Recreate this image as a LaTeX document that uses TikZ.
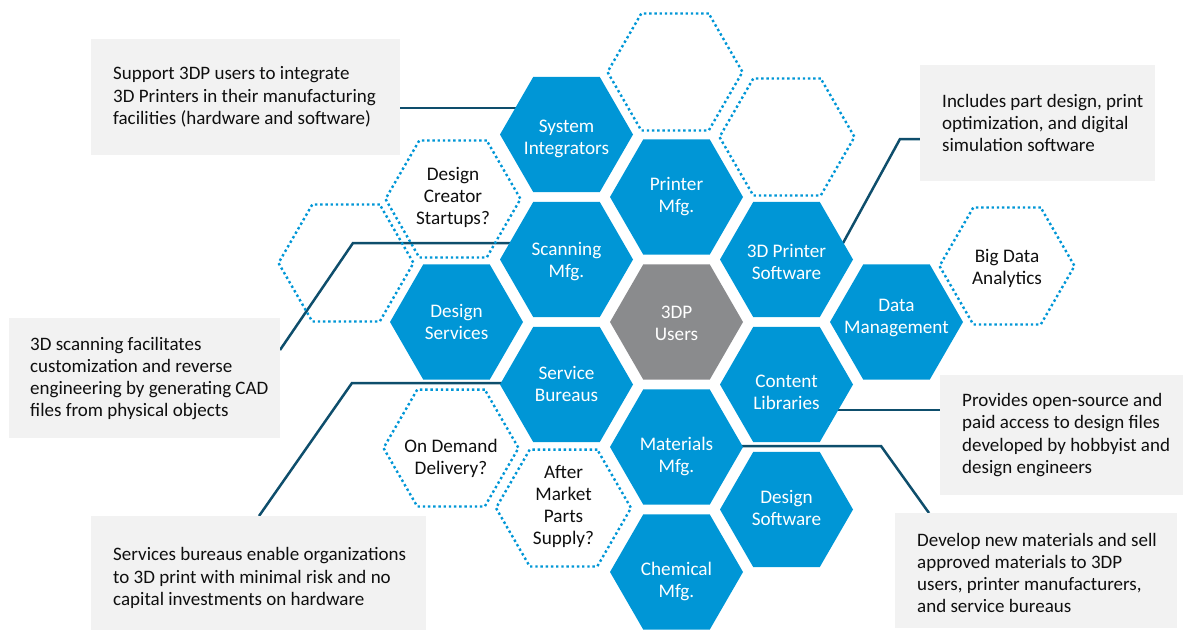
\documentclass[tikz,border=0pt]{standalone}
\usepackage{fontspec}
\setmainfont{Carlito}
\usetikzlibrary{shapes.geometric,backgrounds}
\definecolor{hpblue}{RGB}{0,150,214}
\definecolor{hpgray}{RGB}{138,139,141}
\definecolor{boxgray}{RGB}{242,242,242}
\definecolor{conncol}{RGB}{14,78,108}
\definecolor{txtcol}{RGB}{15,15,15}
\newcommand\hexfont{\fontsize{19.2}{22}\selectfont}
\newcommand\boxfont{\fontsize{19}{22.3}\selectfont}
\begin{document}
\begin{tikzpicture}[x=1pt,y=-1pt,
  hexbase/.style={regular polygon, regular polygon sides=6, inner sep=0pt, outer sep=0pt},
  hexfill/.style={hexbase, minimum size=133pt, fill=hpblue},
  hexgray/.style={hexbase, minimum size=133pt, fill=hpgray},
  hexdot/.style={hexbase, minimum size=135pt, draw=hpblue, line width=2.4pt, dash pattern=on 2.4pt off 2.8pt},
  htext/.style={text=white, align=center, font=\hexfont, inner sep=0pt},
  dtext/.style={text=txtcol, align=center, font=\hexfont, inner sep=0pt},
  infobox/.style={fill=boxgray, inner sep=0pt, outer sep=0pt, anchor=north west},
  btext/.style={text=txtcol, align=left, font=\boxfont, inner sep=0pt, anchor=west},
  conn/.style={draw=conncol, line width=2.5pt}
]
\useasboundingbox (0,0) rectangle (1183,630);

% info boxes
\node[infobox, minimum width=309pt, minimum height=116pt] (b1) at (91,39) {};
\node[infobox, minimum width=235pt, minimum height=116pt] (b2) at (920,65) {};
\node[infobox, minimum width=271pt, minimum height=120pt] (b3) at (9,318) {};
\node[infobox, minimum width=335pt, minimum height=114pt] (b4) at (91,516) {};
\node[infobox, minimum width=243pt, minimum height=120pt] (b5) at (940,375) {};
\node[infobox, minimum width=282pt, minimum height=115pt] (b6) at (895,513) {};

\node[btext] (t1) at (113,97) {Support 3DP users to integrate\\3D Printers in their manufacturing\\facilities (hardware and software)};
\node[btext] (t2) at (942,123) {Includes part design, print\\optimization, and digital\\simulation software};
\node[btext] (t3) at (30,378.5) {3D scanning facilitates\\customization and reverse\\engineering by generating CAD\\files from physical objects};
\node[btext] (t4) at (113,578) {Services bureaus enable organizations\\to 3D print with minimal risk and no\\capital investments on hardware};
\node[btext] (t5) at (962,435) {Provides open-source and\\paid access to design files\\developed by hobbyist and\\design engineers};
\node[btext] (t6) at (917,573) {Develop new materials and sell\\approved materials to 3DP\\users, printer manufacturers,\\and service bureaus};

% filled hexagons
\node[hexfill] (sys)  at (566.5,134.5) {};
\node[hexfill] (pm)   at (676.5,197) {};
\node[hexfill] (scan) at (566.5,259.5) {};
\node[hexgray] (users) at (676.5,322) {};
\node[hexfill] (ds)   at (456.5,322) {};
\node[hexfill] (sb)   at (566.5,384.5) {};
\node[hexfill] (ps3d) at (786.5,259.5) {};
\node[hexfill] (cl)   at (786.5,384.5) {};
\node[hexfill] (dm)   at (896.5,322) {};
\node[hexfill] (mm)   at (676.5,447) {};
\node[hexfill] (dsw)  at (786.5,509.5) {};
\node[hexfill] (cm)   at (676.5,572) {};

\node[htext] (lsys)  at (566.5,139) {System\\Integrators};
\node[htext] (lpm)   at (676.5,197) {Printer\\Mfg.};
\node[htext] (lscan) at (566.5,262) {Scanning\\Mfg.};
\node[htext] (lusers) at (676.5,323.5) {3DP\\Users};
\node[htext] (lds)   at (456.5,322) {Design\\Services};
\node[htext] (lsb)   at (566.5,384) {Service\\Bureaus};
\node[htext] (lps3d) at (786.5,262) {3D Printer\\Software};
\node[htext] (lcl)   at (786.5,392) {Content\\Libraries};
\node[htext] (ldm)   at (896.5,317.5) {Data\\Management};
\node[htext] (lmm)   at (676.5,456) {Materials\\Mfg.};
\node[htext] (ldsw)  at (786.5,507.5) {Design\\Software};
\node[htext] (lcm)   at (676.5,581) {Chemical\\Mfg.};

% dotted hexagons
\node[hexdot] (dtop)   at (675,72) {};
\node[hexdot] (dright) at (787,137) {};
\node[hexdot] (dbig)   at (1007,266) {};
\node[hexdot] (dcre)   at (453,199) {};
\node[hexdot] (dleft)  at (346,263) {};
\node[hexdot] (dond)   at (451,448) {};
\node[hexdot] (daft)   at (563.5,508) {};

\node[dtext] (lbig) at (1007,268) {Big Data\\Analytics};
\node[dtext] (lcre) at (453,197) {Design\\Creator\\Startups?};
\node[dtext] (lond) at (451,458) {On Demand\\Delivery?};
\node[dtext] (laft) at (563.5,506) {After\\Market\\Parts\\Supply?};

% connectors
\begin{scope}[on background layer]
\draw[conn] (b1.east |- 0,108) -- (sys.center |- 0,108);
\coordinate (k2) at (900,139);
\coordinate (e2) at (831,265);
\draw[conn] (b2.west |- k2) -- (k2) -- (e2);
\coordinate (k3) at (353,243);
\draw[conn] (scan.center |- k3) -- (k3) -- (b3.east |- 0,350);
\coordinate (k4) at (352,383);
\draw[conn] (sb.center |- k4) -- (k4) -- (b4.north -| 259,0);
\coordinate (k5) at (0,410);
\draw[conn] (cl.center |- k5) -- (b5.west |- k5);
\coordinate (k6) at (881,446);
\draw[conn] (mm.center |- k6) -- (k6) -- (b6.north -| 929,0);
\end{scope}
\end{tikzpicture}
\end{document}
